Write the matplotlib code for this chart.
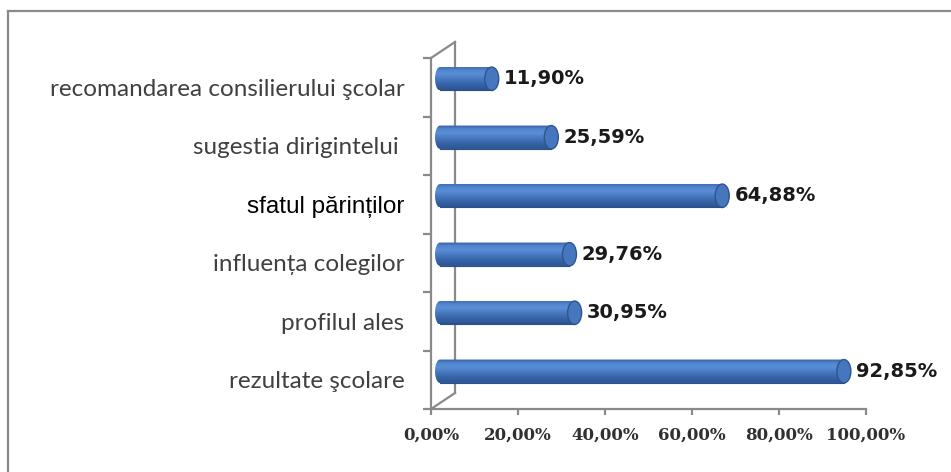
import numpy as np
import matplotlib.pyplot as plt
from matplotlib.patches import Ellipse, PathPatch
from matplotlib.path import Path
from matplotlib.lines import Line2D
from matplotlib.colors import LinearSegmentedColormap
from matplotlib.transforms import ScaledTranslation

# date (de jos in sus)
categorii = ['rezultate şcolare', 'profilul ales', 'influența colegilor',
             'sfatul părinților', 'sugestia dirigintelui ',
             'recomandarea consilierului şcolar']
valori = [92.85, 30.95, 29.76, 64.88, 25.59, 11.90]
etichete = ['92,85%', '30,95%', '29,76%', '64,88%', '25,59%', '11,90%']
xticks = [0, 20, 40, 60, 80, 100]
xtick_labels = ['0,00%', '20,00%', '40,00%', '60,00%', '80,00%', '100,00%']

W, H = 951, 472
fig = plt.figure(figsize=(W / 100, H / 100), dpi=100)
gri = '#8a8a8a'

# chenar exterior (doar sus si stanga)
fig.add_artist(Line2D([8 / W, 1], [1 - 11 / H, 1 - 11 / H], color=gri, lw=1.6))
fig.add_artist(Line2D([8 / W, 8 / W], [0, 1 - 11 / H], color=gri, lw=1.6))

# axa din fata
x0, x1, ybot, ytop = 431, 866, 409, 58
ax = fig.add_axes([x0 / W, 1 - ybot / H, (x1 - x0) / W, (ybot - ytop) / H])
n = len(categorii)
ax.set_xlim(0, 100)
ax.set_ylim(-0.5, n - 0.5)
for s in ['top', 'right']:
    ax.spines[s].set_visible(False)
for s in ['left', 'bottom']:
    ax.spines[s].set_color(gri)
    ax.spines[s].set_linewidth(1.6)
ax.set_yticks(range(n))
ax.set_yticklabels(categorii)
ax.set_yticks(np.arange(-0.5, n, 1), minor=True)
ax.tick_params(axis='y', which='major', length=0, pad=19)
ax.tick_params(axis='y', which='minor', length=6, width=1.6, color=gri)
for lbl in ax.get_yticklabels():
    if lbl.get_text().startswith('sfatul'):
        lbl.set_fontfamily('Liberation Sans')
        lbl.set_fontsize(17.5)
        lbl.set_color('black')
    else:
        lbl.set_fontfamily('Lato')
        lbl.set_fontsize(17.5)
        lbl.set_color('#404040')
ax.set_xticks(xticks)
ax.set_xticklabels(xtick_labels, fontfamily='DejaVu Serif', fontweight='bold',
                   fontsize=12, color='#303030')
ax.tick_params(axis='x', length=4, width=1.6, color=gri, pad=9)
ax.patch.set_alpha(0)

# peretele din spate (adancime)
dx, dy = 24 / 100, 16 / 100
back = ax.transAxes + ScaledTranslation(dx, dy, fig.dpi_scale_trans)
ax.add_line(Line2D([0, 0], [0, 1], transform=back, color=gri, lw=1.6, clip_on=False))
inv = fig.transFigure.inverted()
for yy in [0, 1]:
    a = inv.transform(ax.transAxes.transform((0, yy)))
    b = inv.transform(back.transform((0, yy)))
    fig.add_artist(Line2D([a[0], b[0]], [a[1], b[1]], color=gri, lw=1.6))

# axa barelor (la mijlocul adancimii)
bx0, bshift, marg = 440, 8.5, 12
scale = (x1 - x0) / 100.0
bax = fig.add_axes([(bx0 - marg) / W, 1 - (ybot - bshift) / H,
                    (x1 - x0 + marg) / W, (ybot - ytop) / H])
xmin = -marg / scale
bax.set_xlim(xmin, 100)
bax.set_ylim(-0.5, n - 0.5)
bax.axis('off')

cmap = LinearSegmentedColormap.from_list('cil', [
    (0.0, '#2b5392'), (0.3, '#3b69ad'), (0.68, '#5a8fd7'),
    (0.85, '#5085cd'), (0.95, '#3e6bae'), (1.0, '#36609f')])
grad = np.linspace(0, 1, 64).reshape(-1, 1)
h = 0.40
rxl = 5 / scale
rx = 7 / scale
for i, v in enumerate(valori):
    yb, yt = i - h / 2, i + h / 2
    t = np.linspace(np.pi / 2, 3 * np.pi / 2, 30)
    left = np.column_stack([rxl * np.cos(t), i + h / 2 * np.sin(t)])
    verts = np.vstack([[v, yt], left, [v, yb], [v, yt]])
    patch = PathPatch(Path(verts), facecolor='none', edgecolor='none')
    bax.add_patch(patch)
    im = bax.imshow(grad, extent=(-rxl, v, yb, yt), origin='lower', cmap=cmap,
                    aspect='auto', interpolation='bilinear')
    im.set_clip_path(patch)
    bax.plot([0, v], [yb, yb], color='#2b4f88', lw=0.8)
    cap = Ellipse((v, i), 2 * rx, h, facecolor='#4676bd', edgecolor='#2e5591', lw=1.0)
    bax.add_patch(cap)
    bax.text(v + rx + 1.2, i, etichete[i], va='center', ha='left',
             fontfamily='DejaVu Sans', fontweight='bold', fontsize=14, color='#1a1a1a')

bax.set_xlim(xmin, 100)
bax.set_ylim(-0.5, n - 0.5)

fig.savefig('out.png', dpi=100)
